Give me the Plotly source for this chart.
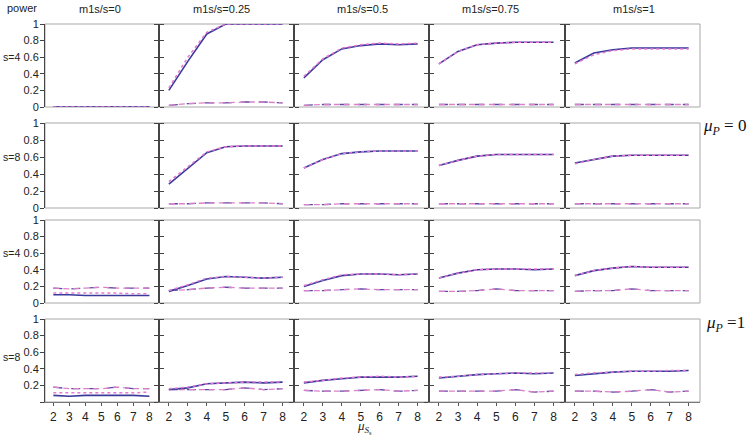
import plotly.graph_objects as go

# ---------------- data ----------------
x_vals = [2, 3, 4, 5, 6, 7, 8]
col_titles = ["m1s/s=0", "m1s/s=0.25", "m1s/s=0.5", "m1s/s=0.75", "m1s/s=1"]
row_labels = ["s=4", "s=8", "s=4", "s=8"]
y_ticks = [0, 0.2, 0.4, 0.6, 0.8, 1]
y_ticktext = ["0", "0.2", "0.4", "0.6", "0.8", "1"]
y_ticktext_last = ["", "0.2", "0.4", "0.6", "0.8", "1"]
empty_series = [None, None, None, None, None, None, None]

# Each list: 5 panels (columns), 7 values each; None = no line
# Row 1: s=4, mu_P=0
solid_r1 = [[0, 0, 0, 0, 0, 0, 0],
            [0.20, 0.55, 0.88, 1.0, 1.0, 1.0, 1.0],
            [0.35, 0.57, 0.70, 0.74, 0.76, 0.75, 0.76],
            [0.52, 0.67, 0.75, 0.77, 0.78, 0.78, 0.78],
            [0.53, 0.65, 0.69, 0.71, 0.71, 0.71, 0.71]]
dotted_r1 = [[0, 0, 0, 0, 0, 0, 0],
             [0.23, 0.60, 0.90, 1.0, 1.0, 1.0, 1.0],
             [0.37, 0.58, 0.71, 0.75, 0.77, 0.76, 0.77],
             [0.52, 0.67, 0.75, 0.77, 0.78, 0.78, 0.78],
             [0.52, 0.63, 0.68, 0.70, 0.70, 0.70, 0.70]]
dashdot_r1 = [[0, 0, 0, 0, 0, 0, 0],
              [0.02, 0.04, 0.05, 0.05, 0.06, 0.06, 0.05],
              [0.02, 0.03, 0.03, 0.03, 0.03, 0.03, 0.03],
              [0.03, 0.03, 0.03, 0.03, 0.03, 0.03, 0.03],
              [0.03, 0.03, 0.03, 0.03, 0.03, 0.03, 0.03]]
dashed_r1 = [[0, 0, 0, 0, 0, 0, 0],
             [0.02, 0.04, 0.05, 0.05, 0.06, 0.06, 0.05],
             [0.02, 0.03, 0.03, 0.03, 0.03, 0.03, 0.03],
             [0.03, 0.03, 0.03, 0.03, 0.03, 0.03, 0.03],
             [0.03, 0.03, 0.03, 0.03, 0.03, 0.03, 0.03]]

# Row 2: s=8, mu_P=0
solid_r2 = [None,
            [0.28, 0.47, 0.65, 0.72, 0.73, 0.73, 0.73],
            [0.47, 0.57, 0.64, 0.66, 0.67, 0.67, 0.67],
            [0.50, 0.56, 0.61, 0.63, 0.63, 0.63, 0.63],
            [0.53, 0.57, 0.61, 0.62, 0.62, 0.62, 0.62]]
dotted_r2 = [None,
             [0.31, 0.49, 0.66, 0.72, 0.73, 0.73, 0.73],
             [0.47, 0.57, 0.64, 0.66, 0.67, 0.67, 0.67],
             [0.50, 0.56, 0.61, 0.63, 0.63, 0.63, 0.63],
             [0.52, 0.57, 0.61, 0.62, 0.62, 0.62, 0.62]]
dashdot_r2 = [None,
              [0.05, 0.05, 0.06, 0.06, 0.06, 0.06, 0.05],
              [0.04, 0.04, 0.05, 0.05, 0.05, 0.05, 0.05],
              [0.05, 0.05, 0.05, 0.05, 0.05, 0.05, 0.05],
              [0.05, 0.05, 0.05, 0.05, 0.05, 0.05, 0.05]]
dashed_r2 = [None,
             [0.05, 0.05, 0.06, 0.06, 0.06, 0.06, 0.05],
             [0.04, 0.04, 0.05, 0.05, 0.05, 0.05, 0.05],
             [0.05, 0.05, 0.05, 0.05, 0.05, 0.05, 0.05],
             [0.05, 0.05, 0.05, 0.05, 0.05, 0.05, 0.05]]

# Row 3: s=4, mu_P=1
solid_r3 = [[0.10, 0.10, 0.09, 0.09, 0.09, 0.09, 0.09],
            [0.14, 0.21, 0.29, 0.32, 0.31, 0.30, 0.31],
            [0.20, 0.27, 0.33, 0.35, 0.35, 0.34, 0.35],
            [0.30, 0.36, 0.40, 0.41, 0.41, 0.40, 0.41],
            [0.33, 0.39, 0.42, 0.44, 0.43, 0.43, 0.43]]
dotted_r3 = [[0.12, 0.12, 0.12, 0.12, 0.12, 0.11, 0.11],
             [0.15, 0.22, 0.30, 0.32, 0.31, 0.30, 0.31],
             [0.21, 0.28, 0.34, 0.35, 0.35, 0.34, 0.35],
             [0.30, 0.36, 0.40, 0.41, 0.41, 0.41, 0.41],
             [0.33, 0.39, 0.42, 0.44, 0.43, 0.43, 0.43]]
dashdot_r3 = [[0.18, 0.17, 0.18, 0.19, 0.18, 0.18, 0.18],
              [0.15, 0.16, 0.18, 0.19, 0.18, 0.18, 0.18],
              [0.15, 0.15, 0.16, 0.17, 0.16, 0.16, 0.16],
              [0.14, 0.14, 0.15, 0.17, 0.15, 0.15, 0.15],
              [0.14, 0.15, 0.15, 0.17, 0.15, 0.15, 0.15]]
dashed_r3 = [[0.18, 0.17, 0.18, 0.19, 0.18, 0.18, 0.18],
             [0.15, 0.16, 0.18, 0.19, 0.18, 0.18, 0.18],
             [0.15, 0.15, 0.16, 0.17, 0.16, 0.16, 0.16],
             [0.14, 0.14, 0.15, 0.17, 0.15, 0.15, 0.15],
             [0.14, 0.15, 0.15, 0.17, 0.15, 0.15, 0.15]]

# Row 4: s=8, mu_P=1
solid_r4 = [[0.08, 0.07, 0.08, 0.08, 0.08, 0.08, 0.07],
            [0.15, 0.17, 0.22, 0.23, 0.24, 0.23, 0.24],
            [0.23, 0.26, 0.28, 0.30, 0.30, 0.30, 0.31],
            [0.29, 0.31, 0.33, 0.34, 0.35, 0.34, 0.35],
            [0.32, 0.34, 0.36, 0.37, 0.37, 0.37, 0.38]]
dotted_r4 = [[0.11, 0.11, 0.11, 0.11, 0.11, 0.11, 0.12],
             [0.16, 0.18, 0.22, 0.23, 0.24, 0.24, 0.24],
             [0.24, 0.26, 0.29, 0.30, 0.31, 0.30, 0.31],
             [0.30, 0.31, 0.33, 0.34, 0.35, 0.35, 0.35],
             [0.33, 0.35, 0.36, 0.37, 0.37, 0.38, 0.38]]
dashdot_r4 = [[0.18, 0.16, 0.16, 0.16, 0.18, 0.16, 0.16],
              [0.15, 0.15, 0.15, 0.15, 0.17, 0.15, 0.16],
              [0.14, 0.13, 0.13, 0.14, 0.15, 0.13, 0.14],
              [0.13, 0.13, 0.13, 0.13, 0.15, 0.12, 0.13],
              [0.13, 0.13, 0.12, 0.13, 0.15, 0.12, 0.13]]
dashed_r4 = [[0.18, 0.16, 0.16, 0.16, 0.18, 0.16, 0.16],
             [0.15, 0.15, 0.15, 0.15, 0.17, 0.15, 0.16],
             [0.14, 0.13, 0.13, 0.14, 0.15, 0.13, 0.14],
             [0.13, 0.13, 0.13, 0.13, 0.15, 0.12, 0.13],
             [0.13, 0.13, 0.12, 0.13, 0.15, 0.12, 0.13]]

rows_data = [
    (solid_r1, dotted_r1, dashdot_r1, dashed_r1),
    (solid_r2, dotted_r2, dashdot_r2, dashed_r2),
    (solid_r3, dotted_r3, dashdot_r3, dashed_r3),
    (solid_r4, dotted_r4, dashdot_r4, dashed_r4),
]

# ---------------- layout geometry ----------------
W, H = 747, 439
col_px = [(45, 159), (159, 294), (294, 429), (429, 565), (565, 700)]
row_px = [(24, 107), (123, 208), (220, 303), (319, 402)]

line_styles = [
    dict(color="#3a3a9c", width=1.6, dash="solid"),
    dict(color="#e57ad2", width=1.5, dash="dot"),
    dict(color="#5a4aa6", width=1.3, dash="dash"),
    dict(color="#dc80c8", width=1.3, dash="6px,4px"),
]
draw_order = [2, 3, 0, 1]

font_family = "Liberation Sans, Arial, sans-serif"
fig = go.Figure()
layout = dict(
    width=W, height=H,
    margin=dict(l=0, r=0, t=0, b=0, autoexpand=False),
    paper_bgcolor="white", plot_bgcolor="rgba(0,0,0,0)",
    showlegend=False,
    font=dict(family=font_family, size=11, color="#222"),
)
shapes = []
annotations = []

for r in range(4):
    for c in range(5):
        k = r * 5 + c + 1
        xs = "" if k == 1 else str(k)
        x0, x1 = col_px[c]
        y0, y1 = row_px[r]
        xdom = [x0 / W, x1 / W]
        ydom = [1 - y1 / H, 1 - y0 / H]
        last_row = (r == 3)
        layout["xaxis" + xs] = dict(
            domain=xdom, anchor="y" + xs, range=[1.48, 8.6], automargin=False,
            showgrid=False, zeroline=False,
            showline=last_row, linecolor="#777", linewidth=1.2,
            ticks="outside" if last_row else "", ticklen=3, tickcolor="#555",
            tickvals=x_vals, showticklabels=last_row,
            tickfont=dict(size=12, color="#222"),
        )
        layout["yaxis" + xs] = dict(
            domain=ydom, anchor="x" + xs, range=[0, 1], automargin=False,
            showgrid=False, zeroline=False,
            showline=True, linecolor="#454545", linewidth=1,
            mirror="ticks" if c < 4 else False,
            ticks="outside", ticklen=4, tickcolor="#444", tickwidth=1.2,
            tickvals=y_ticks, ticklabelstandoff=-1,
            ticktext=y_ticktext_last if last_row else y_ticktext,
            showticklabels=(c == 0),
            tickfont=dict(size=11, color="#222"),
        )
        shapes.append(dict(type="rect", xref="paper", yref="paper",
                           x0=xdom[0], x1=xdom[1], y0=ydom[0], y1=ydom[1],
                           line=dict(color="#a8a8a8", width=1), layer="below"))
        series = rows_data[r]
        for si in draw_order:
            vals = series[si][c]
            if vals is None:
                vals = empty_series
            fig.add_trace(go.Scatter(
                x=x_vals, y=vals, mode="lines",
                line=line_styles[si], xaxis="x" + xs, yaxis="y" + xs,
                hoverinfo="skip"))


def label(text, px, py, size=11, family=None, color="#222"):
    f = dict(size=size, color=color)
    if family:
        f["family"] = family
    return dict(text=text, x=px / W, y=1 - py / H, xref="paper", yref="paper",
                xanchor="center", yanchor="middle", showarrow=False, font=f)


annotations.append(label("power", 22, 8))
title_x = [100, 222, 362, 490, 634]
for c, t in enumerate(col_titles):
    annotations.append(label(t, title_x[c], 9))
row_label_y = [57, 157, 253, 357]
for r, t in enumerate(row_labels):
    annotations.append(label(t, 12, row_label_y[r], size=10.5))
serif = "Liberation Serif, Times New Roman, serif"
annotations.append(label("<i>μ</i><sub><i>P</i></sub> = 0", 724, 127, size=17, family=serif, color="#111"))
annotations.append(label("<i>μ</i><sub><i>P</i></sub> =1", 725, 324, size=17, family=serif, color="#111"))
annotations.append(label("<i>μ</i><sub><i>S</i><sub>s</sub></sub>", 364, 427, size=13, family=serif))

layout["shapes"] = shapes
layout["annotations"] = annotations
fig.update_layout(**layout)
fig.write_html("out.html", config={"displayModeBar": False},
               post_script="document.body.style.margin='0';document.body.style.overflow='hidden';")
